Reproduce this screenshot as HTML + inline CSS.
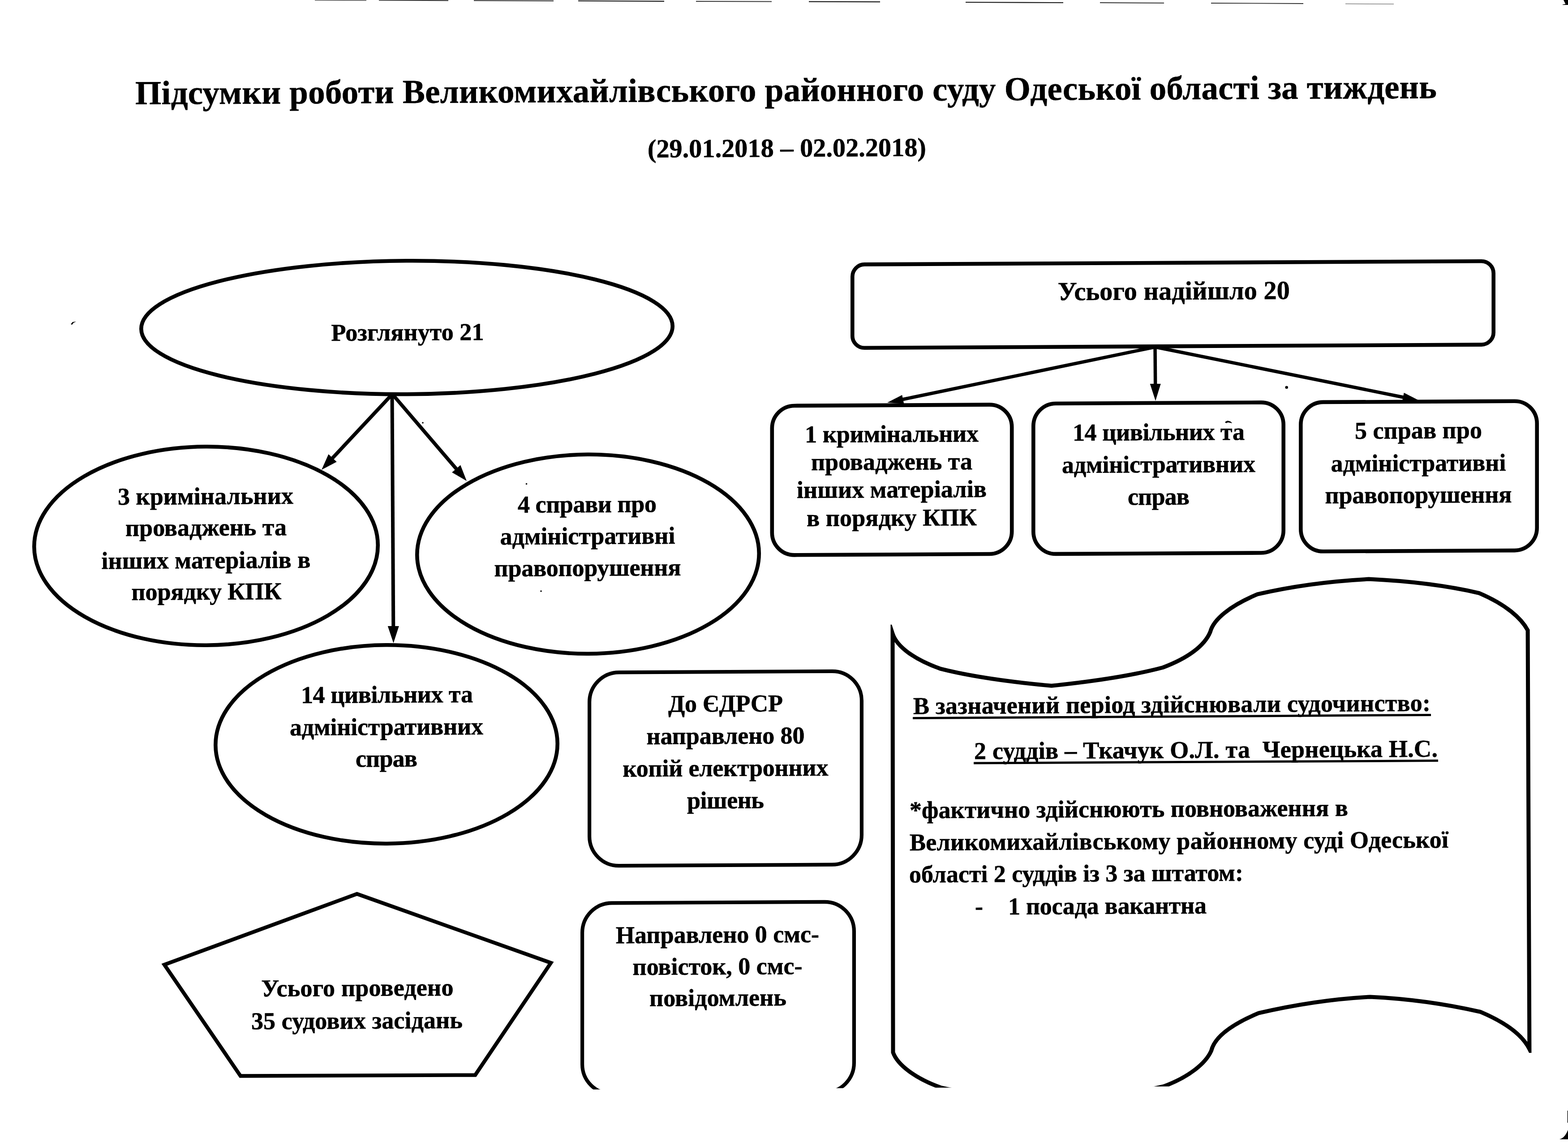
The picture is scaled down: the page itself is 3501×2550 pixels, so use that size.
<!DOCTYPE html>
<html lang="uk">
<head>
<meta charset="utf-8">
<title>Підсумки роботи Великомихайлівського районного суду Одеської області за тиждень</title>
<style>
html,body{margin:0;padding:0;background:#fff;}
body{width:3501px;height:2550px;overflow:hidden;}
svg{display:block;}
svg text{white-space:pre;font-family:"Liberation Serif","DejaVu Serif",serif;font-weight:bold;fill:#000;stroke:#000;stroke-width:0.6px;}
svg ellipse,svg rect,svg path,svg polygon,svg line{fill:none;stroke:#000;}
svg .f{fill:#000;stroke:none;}
</style>
</head>
<body>
<svg width="3501" height="2550" viewBox="0 0 3501 2550">
<defs><clipPath id="cutw"><rect x="0" y="1396" width="3300" height="1034.5" transform="rotate(-0.3 1750 2430.5)"/><rect x="2300" y="0" width="1201" height="2351"/></clipPath><clipPath id="cut"><rect x="0" y="0" width="3501" height="2430.5" transform="rotate(-0.3 1750 2430.5)"/></clipPath></defs>
<rect x="0" y="0" width="3501" height="2550" style="fill:#fff;stroke:none"/>
<text x="1755" y="226" font-size="75" text-anchor="middle" textLength="2906" lengthAdjust="spacing" transform="rotate(-0.27 1755 226)" xml:space="preserve">Підсумки роботи Великомихайлівського районного суду Одеської області за тиждень</text>
<text x="1757" y="350" font-size="58.3" text-anchor="middle" textLength="622" lengthAdjust="spacing" transform="rotate(-0.3 1757 350)" xml:space="preserve">(29.01.2018 – 02.02.2018)</text>
<ellipse cx="908.5" cy="731.25" rx="593.2" ry="148.95" stroke-width="8.6" transform="rotate(-0.3 908.5 731.25)"/>
<text x="910" y="760" font-size="54.2" text-anchor="middle" textLength="341" lengthAdjust="spacing" transform="rotate(-0.3 910 760)" xml:space="preserve">Розглянуто 21</text>
<line x1="876.0" y1="880.0" x2="739.9" y2="1025.6" stroke-width="8"/>
<polygon class="f" points="718.0,1049.0 733.5,1014.2 751.7,1031.2"/>
<line x1="876.0" y1="880.0" x2="1021.2" y2="1049.7" stroke-width="8"/>
<polygon class="f" points="1042.0,1074.0 1009.1,1054.8 1028.1,1038.5"/>
<line x1="875.5" y1="880.0" x2="878.3" y2="1402.0" stroke-width="8"/>
<polygon class="f" points="878.5,1436.0 865.8,1398.1 890.8,1397.9"/>
<ellipse cx="460.0" cy="1219.0" rx="383.7" ry="221.7" stroke-width="8.6" transform="rotate(-0.3 460.0 1219.0)"/>
<text x="459" y="1126" font-size="54.2" text-anchor="middle" textLength="392" lengthAdjust="spacing" transform="rotate(-0.3 459 1126)" xml:space="preserve">3 кримінальних</text>
<text x="460" y="1196" font-size="54.2" text-anchor="middle" textLength="360" lengthAdjust="spacing" transform="rotate(-0.3 460 1196)" xml:space="preserve">проваджень та</text>
<text x="460" y="1269" font-size="54.2" text-anchor="middle" textLength="467" lengthAdjust="spacing" transform="rotate(-0.3 460 1269)" xml:space="preserve">інших матеріалів в</text>
<text x="461" y="1339" font-size="54.2" text-anchor="middle" textLength="335" lengthAdjust="spacing" transform="rotate(-0.3 461 1339)" xml:space="preserve">порядку КПК</text>
<ellipse cx="1313.0" cy="1237.25" rx="381.7" ry="222.45" stroke-width="8.6" transform="rotate(-0.3 1313.0 1237.25)"/>
<text x="1311" y="1144" font-size="54.2" text-anchor="middle" textLength="310" lengthAdjust="spacing" transform="rotate(-0.3 1311 1144)" xml:space="preserve">4 справи про</text>
<text x="1312" y="1215" font-size="54.2" text-anchor="middle" textLength="391" lengthAdjust="spacing" transform="rotate(-0.3 1312 1215)" xml:space="preserve">адміністративні</text>
<text x="1312" y="1286" font-size="54.2" text-anchor="middle" textLength="417" lengthAdjust="spacing" transform="rotate(-0.3 1312 1286)" xml:space="preserve">правопорушення</text>
<ellipse cx="863.0" cy="1662.0" rx="381.7" ry="221.7" stroke-width="8.6" transform="rotate(-0.3 863.0 1662.0)"/>
<text x="864" y="1569" font-size="54.2" text-anchor="middle" textLength="384" lengthAdjust="spacing" transform="rotate(-0.3 864 1569)" xml:space="preserve">14 цивільних та</text>
<text x="863" y="1641" font-size="54.2" text-anchor="middle" textLength="432" lengthAdjust="spacing" transform="rotate(-0.3 863 1641)" xml:space="preserve">адміністративних</text>
<text x="863" y="1712" font-size="54.2" text-anchor="middle" textLength="138" lengthAdjust="spacing" transform="rotate(-0.3 863 1712)" xml:space="preserve">справ</text>
<rect x="1316.1" y="1500.1" width="607.8" height="431.8" rx="66" ry="66" stroke-width="8.2" transform="translate(1620.0 1716.0) skewY(-0.3) translate(-1620.0 -1716.0)"/>
<text x="1620" y="1589" font-size="54.2" text-anchor="middle" textLength="256" lengthAdjust="spacing" transform="rotate(-0.3 1620 1589)" xml:space="preserve">До ЄДРСР</text>
<text x="1620" y="1661" font-size="54.2" text-anchor="middle" textLength="353" lengthAdjust="spacing" transform="rotate(-0.3 1620 1661)" xml:space="preserve">направлено 80</text>
<text x="1620" y="1733" font-size="54.2" text-anchor="middle" textLength="459" lengthAdjust="spacing" transform="rotate(-0.3 1620 1733)" xml:space="preserve">копій електронних</text>
<text x="1620" y="1805" font-size="54.2" text-anchor="middle" textLength="172" lengthAdjust="spacing" transform="rotate(-0.3 1620 1805)" xml:space="preserve">рішень</text>
<g clip-path="url(#cut)">
<rect x="1300.1" y="2015.1" width="606.8" height="425.8" rx="66" ry="66" stroke-width="8.2" transform="translate(1603.5 2228.0) skewY(-0.3) translate(-1603.5 -2228.0)"/>
</g>
<text x="1602" y="2105" font-size="54.2" text-anchor="middle" textLength="454" lengthAdjust="spacing" transform="rotate(-0.3 1602 2105)" xml:space="preserve">Направлено 0 смс-</text>
<text x="1602" y="2176" font-size="54.2" text-anchor="middle" textLength="379" lengthAdjust="spacing" transform="rotate(-0.3 1602 2176)" xml:space="preserve">повісток, 0 смс-</text>
<text x="1603" y="2246" font-size="54.2" text-anchor="middle" textLength="306" lengthAdjust="spacing" transform="rotate(-0.3 1603 2246)" xml:space="preserve">повідомлень</text>
<polygon points="797,1996 1230,2150 1061,2400.5 537,2402.5 367,2154" stroke-width="8.4" stroke-linejoin="miter"/>
<text x="798" y="2224" font-size="54.2" text-anchor="middle" textLength="429" lengthAdjust="spacing" transform="rotate(-0.3 798 2224)" xml:space="preserve">Усього проведено</text>
<text x="797" y="2297" font-size="54.2" text-anchor="middle" textLength="472" lengthAdjust="spacing" transform="rotate(-0.3 797 2297)" xml:space="preserve">35 судових засідань</text>
<rect x="1903.3" y="586.8" width="1431.4" height="186.4" rx="27" ry="27" stroke-width="8.6" transform="translate(2619.0 680.0) skewY(-0.3) translate(-2619.0 -680.0)"/>
<text x="2621" y="669" font-size="58.3" text-anchor="middle" textLength="518" lengthAdjust="spacing" transform="rotate(-0.3 2621 669)" xml:space="preserve">Усього надійшло 20</text>
<line x1="2578.0" y1="775.0" x2="2012.3" y2="892.5" stroke-width="7.5"/>
<polygon class="f" points="1981.0,899.0 2014.2,881.9 2018.3,901.5"/>
<line x1="2579.0" y1="775.0" x2="2579.7" y2="861.0" stroke-width="7.5"/>
<polygon class="f" points="2580.0,895.0 2567.7,857.1 2591.7,856.9"/>
<line x1="2580.0" y1="775.0" x2="3136.6" y2="887.7" stroke-width="7.5"/>
<polygon class="f" points="3168.0,894.0 3130.7,896.7 3134.7,877.1"/>
<rect x="1723.8" y="904.8" width="535.4" height="333.4" rx="50" ry="50" stroke-width="8.6" transform="translate(1991.5 1071.5) skewY(-0.3) translate(-1991.5 -1071.5)"/>
<text x="1991" y="987" font-size="54.2" text-anchor="middle" textLength="388" lengthAdjust="spacing" transform="rotate(-0.3 1991 987)" xml:space="preserve">1 кримінальних</text>
<text x="1991" y="1049" font-size="54.2" text-anchor="middle" textLength="360" lengthAdjust="spacing" transform="rotate(-0.3 1991 1049)" xml:space="preserve">проваджень та</text>
<text x="1991" y="1111" font-size="54.2" text-anchor="middle" textLength="424" lengthAdjust="spacing" transform="rotate(-0.3 1991 1111)" xml:space="preserve">інших матеріалів</text>
<text x="1991" y="1174" font-size="54.2" text-anchor="middle" textLength="380" lengthAdjust="spacing" transform="rotate(-0.3 1991 1174)" xml:space="preserve">в порядку КПК</text>
<rect x="2307.3" y="899.8" width="558.4" height="335.9" rx="50" ry="50" stroke-width="8.6" transform="translate(2586.5 1067.75) skewY(-0.3) translate(-2586.5 -1067.75)"/>
<text x="2587" y="983" font-size="54.2" text-anchor="middle" textLength="384" lengthAdjust="spacing" transform="rotate(-0.3 2587 983)" xml:space="preserve">14 цивільних та</text>
<text x="2587" y="1055" font-size="54.2" text-anchor="middle" textLength="432" lengthAdjust="spacing" transform="rotate(-0.3 2587 1055)" xml:space="preserve">адміністративних</text>
<text x="2587" y="1127" font-size="54.2" text-anchor="middle" textLength="138" lengthAdjust="spacing" transform="rotate(-0.3 2587 1127)" xml:space="preserve">справ</text>
<rect x="2904.3" y="896.8" width="527.4" height="333.4" rx="50" ry="50" stroke-width="8.6" transform="translate(3168.0 1063.5) skewY(-0.3) translate(-3168.0 -1063.5)"/>
<text x="3167" y="979" font-size="54.2" text-anchor="middle" textLength="284" lengthAdjust="spacing" transform="rotate(-0.3 3167 979)" xml:space="preserve">5 справ про</text>
<text x="3167" y="1052" font-size="54.2" text-anchor="middle" textLength="391" lengthAdjust="spacing" transform="rotate(-0.3 3167 1052)" xml:space="preserve">адміністративні</text>
<text x="3167" y="1123" font-size="54.2" text-anchor="middle" textLength="417" lengthAdjust="spacing" transform="rotate(-0.3 3167 1123)" xml:space="preserve">правопорушення</text>
<g clip-path="url(#cutw)">
<path stroke-width="9" stroke-linejoin="miter" stroke-miterlimit="10" d="M3414.9,2342.5 C3399.9,2312.5 3365.3,2284.8 3306.0,2259.6 C3236.9,2243.7 3150.5,2230.3 3059.2,2226.0 C2960.6,2231.2 2881.7,2245.6 2810.2,2262.2 C2748.6,2288.0 2711.7,2316.1 2704.5,2346.3 C2692.2,2374.2 2655.3,2404.6 2598.6,2425.7 C2527.1,2442.3 2443.2,2454.4 2349.4,2464.2 C2253.2,2455.4 2171.7,2444.2 2100.1,2428.3 C2043.4,2407.8 2003.9,2377.8 1994.0,2350.0 L1993.0,1414.8 C2002.9,1444.9 2042.3,1472.5 2099.0,1493.1 C2170.5,1511.3 2251.7,1522.5 2347.8,1531.3 C2441.4,1521.5 2525.1,1509.4 2596.4,1490.5 C2653.1,1469.3 2689.9,1441.3 2702.2,1411.0 C2709.3,1383.2 2746.2,1352.7 2807.7,1326.9 C2879.0,1310.3 2957.7,1298.3 3056.2,1293.1 C3147.3,1297.3 3233.5,1308.4 3302.5,1324.3 C3361.7,1349.5 3396.2,1379.6 3411.1,1407.3 Z"/>
</g>
<text x="2039" y="1594.5" font-size="54.2" text-anchor="start" textLength="1155" lengthAdjust="spacing" transform="rotate(-0.35 2039 1594.5)" xml:space="preserve">В зазначений період здійснювали судочинство:</text>
<line x1="2038" y1="1603.5" x2="3195" y2="1603.5" stroke-width="5" transform="rotate(-0.35 2039 1594.5)"/>
<text x="2175" y="1695" font-size="54.2" text-anchor="start" textLength="1035" lengthAdjust="spacing" transform="rotate(-0.3 2175 1695)" xml:space="preserve">2 суддів – Ткачук О.Л. та  Чернецька Н.С.</text>
<line x1="2174" y1="1704" x2="3211" y2="1704" stroke-width="5" transform="rotate(-0.3 2175 1695)"/>
<text x="2031" y="1827" font-size="54.2" text-anchor="start" textLength="979" lengthAdjust="spacing" transform="rotate(-0.3 2031 1827)" xml:space="preserve">*фактично здійснюють повноваження в</text>
<text x="2031" y="1899" font-size="54.2" text-anchor="start" textLength="1203" lengthAdjust="spacing" transform="rotate(-0.3 2031 1899)" xml:space="preserve">Великомихайлівському районному суді Одеської</text>
<text x="2030" y="1970.5" font-size="54.2" text-anchor="start" textLength="746" lengthAdjust="spacing" transform="rotate(-0.3 2030 1970.5)" xml:space="preserve">області 2 суддів із 3 за штатом:</text>
<text x="2177" y="2042" font-size="54.2" text-anchor="start" transform="rotate(-0.3 2177 2042)" xml:space="preserve">-</text>
<text x="2251" y="2042" font-size="54.2" text-anchor="start" textLength="443" lengthAdjust="spacing" transform="rotate(-0.3 2251 2042)" xml:space="preserve">1 посада вакантна</text>
<line x1="703" y1="0.5" x2="818" y2="1" stroke-width="1.5" stroke-opacity="0.7"/>
<line x1="846" y1="0.5" x2="1001" y2="1.2" stroke-width="2" stroke-opacity="0.8"/>
<line x1="1058" y1="1.2" x2="1236" y2="2" stroke-width="2" stroke-opacity="0.8"/>
<line x1="1291" y1="2" x2="1483" y2="2.8" stroke-width="2.2" stroke-opacity="0.9"/>
<line x1="1554" y1="3" x2="1723" y2="3.6" stroke-width="2" stroke-opacity="0.8"/>
<line x1="1806" y1="3.6" x2="1965" y2="4.2" stroke-width="2.2" stroke-opacity="0.9"/>
<line x1="2156" y1="5" x2="2374" y2="6" stroke-width="2.2" stroke-opacity="0.9"/>
<line x1="2456" y1="6" x2="2599" y2="6.8" stroke-width="2" stroke-opacity="0.8"/>
<line x1="2704" y1="7" x2="2910" y2="8" stroke-width="1.8" stroke-opacity="0.8"/>
<line x1="3004" y1="8.5" x2="3112" y2="9" stroke-width="1.5" stroke-opacity="0.5"/>
<polygon class="f" points="3491,0 3501,0 3501,11 3489,11 3489,10 3495.5,9"/>
<path class="f" d="M3482,2544 Q3494,2541 3501,2523 L3501,2544 Z"/>
<line x1="3500.5" y1="2480" x2="3500.5" y2="2507" stroke-width="1.5" stroke-opacity="1"/>
<circle class="f" cx="2872.7" cy="865" r="3.2"/>
<path class="f" d="M2735,943 q4,-5 9,-3 q5,1 7,5 l-5,-1 q-5,-2 -8,1 z"/>
<path class="f" d="M158,724 l4,-5 l8,-1 l-6,3 l-3,4 z"/>
<circle class="f" cx="1175.5" cy="1080.5" r="1.8"/>
<circle class="f" cx="944" cy="944" r="1.8"/>
<circle class="f" cx="1208" cy="1320" r="1.8"/>
</svg>
</body>
</html>
